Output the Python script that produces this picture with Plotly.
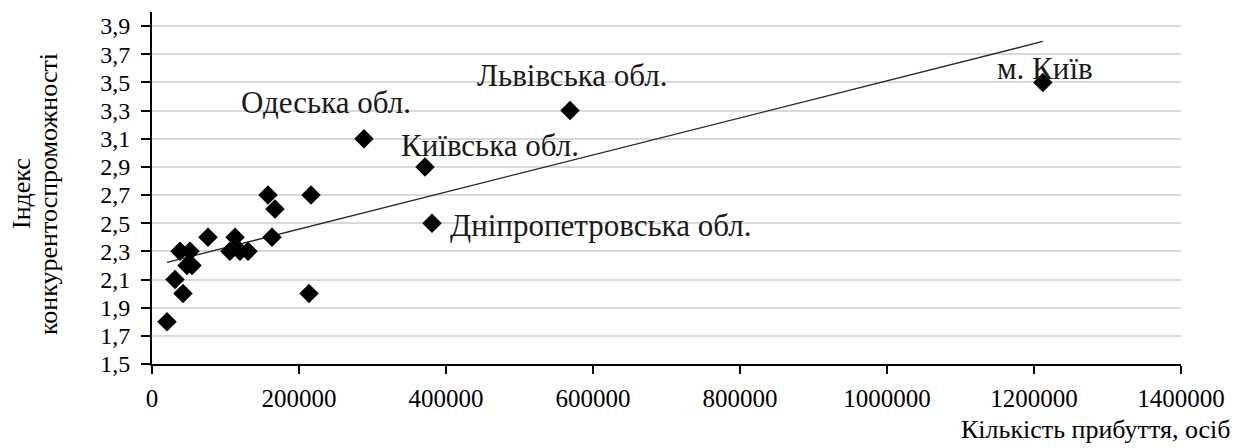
import numpy as np
import plotly.graph_objects as go

# Data: arrivals (persons) vs competitiveness index
arrivals = [20400, 31300, 42200, 38100, 51700, 47600, 54400, 76200, 113000,
            106000, 119700, 130600, 157800, 167300, 163300, 216300, 213600,
            288400, 371400, 381000, 568700, 1212000]
index_vals = [1.8, 2.1, 2.0, 2.3, 2.3, 2.2, 2.2, 2.4, 2.4,
              2.3, 2.3, 2.3, 2.7, 2.6, 2.4, 2.7, 2.0,
              3.1, 2.9, 2.5, 3.3, 3.5]
labels = ["", "", "", "", "", "", "", "", "",
          "", "", "", "", "", "", "", "",
          "Одеська обл.", "Київська обл.", "Дніпропетровська обл.",
          "Львівська обл.", "м. Київ"]

y_ticks = [1.5, 1.7, 1.9, 2.1, 2.3, 2.5, 2.7, 2.9, 3.1, 3.3, 3.5, 3.7, 3.9]
y_tick_text = [f"{v:.1f}".replace(".", ",") for v in y_ticks]
x_ticks = [0, 200000, 400000, 600000, 800000, 1000000, 1200000, 1400000]

x_title = "Кількість прибуття, осіб"
y_title_lines = ["Індекс", "конкурентоспроможності"]

SERIF = "Liberation Serif"

x = np.array(arrivals, dtype=float)
y = np.array(index_vals, dtype=float)
slope, intercept = np.polyfit(x, y, 1)
tx = np.array([x.min(), x.max()])
ty = slope * tx + intercept

fig = go.Figure()
fig.add_trace(go.Scatter(x=tx, y=ty, mode="lines",
                         line=dict(color="#262626", width=1.3),
                         hoverinfo="skip", showlegend=False))
fig.add_trace(go.Scatter(x=arrivals, y=index_vals, mode="markers",
                         marker=dict(symbol="diamond", size=15, color="black",
                                     line=dict(width=0)),
                         showlegend=False))

# label offsets (pixels) relative to the point
offsets = {
    "Одеська обл.": (-38, -36, "center"),
    "Київська обл.": (65, -21, "center"),
    "Дніпропетровська обл.": (16, 2, "left"),
    "Львівська обл.": (3, -35, "center"),
    "м. Київ": (2, -14, "center"),
}
for xv, yv, lab in zip(arrivals, index_vals, labels):
    if not lab:
        continue
    dx, dy, al = offsets[lab]
    fig.add_annotation(x=xv, y=yv, text=lab, showarrow=False,
                       xshift=dx, yshift=-dy, xanchor=al, yanchor="middle",
                       font=dict(family=SERIF, size=31, color="#1a1a1a"))

# axis titles
fig.add_annotation(x=1.0, y=0, xref="paper", yref="paper", yshift=-65,
                   text=x_title, showarrow=False,
                   xanchor="right", yanchor="middle", xshift=52,
                   font=dict(family=SERIF, size=26, color="black"))
for shift, line in zip([-130, -103], y_title_lines):
    fig.add_annotation(x=0, y=0.483, xref="paper", yref="paper", xshift=shift,
                       text=line, showarrow=False,
                       textangle=-90, xanchor="center", yanchor="middle",
                       font=dict(family=SERIF, size=26, color="black"))

fig.update_xaxes(range=[0, 1400000], tickvals=x_ticks,
                 ticktext=[str(v) for v in x_ticks],
                 showgrid=False, zeroline=False, automargin=False,
                 showline=True, linecolor="black", linewidth=2,
                 ticks="outside", ticklen=8, tickwidth=2, tickcolor="black",
                 ticklabelstandoff=3,
                 tickfont=dict(family=SERIF, size=25, color="black"))
fig.update_yaxes(range=[1.5, 4.0], tickvals=y_ticks, ticktext=y_tick_text,
                 showgrid=True, gridcolor="#d9d9d9", gridwidth=2,
                 zeroline=False, automargin=False,
                 showline=True, linecolor="black", linewidth=2,
                 ticks="outside", ticklen=9, tickwidth=2, tickcolor="black",
                 ticklabelstandoff=6,
                 tickfont=dict(family=SERIF, size=24, color="black"))

# page body has an 8px default margin; compensate so the plot lands in place
fig.update_layout(width=1243, height=440,
                  margin=dict(l=144, r=70, t=4, b=84),
                  plot_bgcolor="white", paper_bgcolor="white",
                  showlegend=False)

fig.write_html("out.html")
